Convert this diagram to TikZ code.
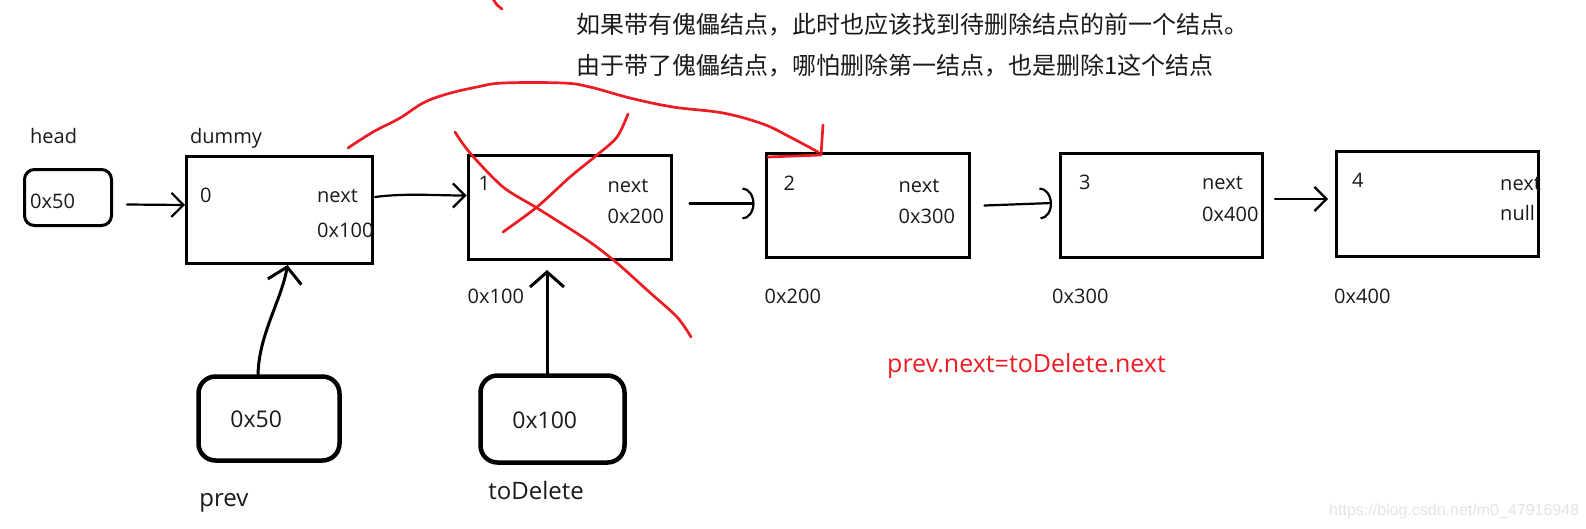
\documentclass[tikz,border=0pt]{standalone}
\usepackage{fontspec}
\setmainfont{Open Sans}
\newfontfamily\cjk{Noto Sans CJK SC}
\newfontfamily\wmfont{Liberation Sans}
\usetikzlibrary{arrows.meta,positioning,calc}
\definecolor{cPaintRed}{HTML}{ED1C24}
\definecolor{cInk}{HTML}{000000}
\definecolor{cText}{HTML}{1A1A1A}
\definecolor{cMark}{HTML}{E4E4E4}
\newcommand{\fsz}[1]{\fontsize{#1}{#1}\selectfont}

\begin{document}
\begin{tikzpicture}[x=1pt, y=-1pt, font=\fsz{20},
  cell/.style={draw=cInk, line width=3pt, inner sep=0pt, minimum width=#1, minimum height=104pt},
  cell/.default=203pt,
  var/.style={draw=cInk, line width=#1, inner sep=0pt},
  txt/.style={anchor=base west, inner sep=0pt, text=cText},
  note/.style={txt, font=\cjk\fsz{24}},
  ptr/.style={line width=2.2pt, line cap=round, -{Straight Barb[length=12pt, width=24pt]}},
  ptrbig/.style={line width=3pt, line cap=round, -{Straight Barb[length=15pt, width=34pt]}},
  ptrarc/.style={line width=2.2pt, line cap=round, -{Arc Barb[length=12pt, width=32pt]}},
  pen/.style={draw=cPaintRed, line width=2.7pt, line cap=round, line join=round}]
  \path[use as bounding box, fill=white] (0,0) rectangle (1586,528);
  % remark on top
  \node[note] (note1) at (576,33) {如果带有傀儡结点，此时也应该找到待删除结点的前一个结点。};
  \node[note] (note2) at (576,74) {由于带了傀儡结点，哪怕删除第一结点，也是删除1这个结点};
  % head reference
  \node[var=3pt, rounded corners=10pt, minimum width=87pt, minimum height=56pt] (head) at (68,197.5) {};
  \node[txt] (headval) at ($(head.north west)+(7,40)$) {0x50};
  \node[txt] (headname) at ($(head.north west)+(7,-25)$) {head};
  % dummy node
  \node[cell=186pt, minimum height=107pt] (dummy) at (279.5,210) {};
  \node[txt] (dummyname) at ($(dummy.north west)+(5,-12)$) {dummy};
  \node[txt] (val0) at ($(dummy.north west)+(15,47)$) {0};
  \node[txt] (next0) at ($(dummy.north west)+(132,47)$) {next};
  \node[txt] (ptr0) at ($(dummy.north west)+(132,82)$) {0x100};
  % list nodes
  \node[cell] (n1) at (569.5,207.5) {};
  \node[txt] (val1) at ($(n1.north west)+(12,36)$) {1};
  \node[txt] (next1) at ($(n1.north west)+(141,38)$) {next};
  \node[txt] (ptr1) at ($(n1.north west)+(141,69)$) {0x200};
  \node[txt] (addr1) at ($(n1.south west)+(1,42)$) {0x100};
  \node[cell] (n2) at (867.5,205.5) {};
  \node[txt] (val2) at ($(n2.north west)+(19,38)$) {2};
  \node[txt] (next2) at ($(n2.north west)+(134,40)$) {next};
  \node[txt] (ptr2) at ($(n2.north west)+(134,71)$) {0x300};
  \node[txt] (addr2) at ($(n2.south west)+(0,44)$) {0x200};
  \node[cell=202pt] (n3) at (1161.5,205) {};
  \node[txt] (val3) at ($(n3.north west)+(20,38)$) {3};
  \node[txt] (next3) at ($(n3.north west)+(143,38)$) {next};
  \node[txt] (ptr3) at ($(n3.north west)+(143,70)$) {0x400};
  \node[txt] (addr3) at ($(n3.south west)+(-7,45)$) {0x300};
  \node[cell=202pt, minimum height=105pt] (n4) at (1437.5,204) {};
  \node[txt] (val4) at ($(n4.north west)+(17,37)$) {4};
  \node[txt] (next4) at ($(n4.north west)+(165,40)$) {next};
  \node[txt] (ptr4) at ($(n4.north west)+(165,70)$) {null};
  \node[txt] (addr4) at ($(n4.south west)+(-1,45)$) {0x400};
  % prev and toDelete
  \node[var=4.5pt, rounded corners=17pt, minimum width=141pt, minimum height=84pt] (prev) at (269,418.5) {};
  \node[txt, font=\fsz{23}] (prevval) at ($(prev.north west)+(34,53)$) {0x50};
  \node[txt, font=\fsz{24}] (prevname) at ($(prev.south west)+(3,44)$) {prev};
  \node[var=4.5pt, rounded corners=17pt, minimum width=144pt, minimum height=87pt] (td) at (552.5,419) {};
  \node[txt, font=\fsz{23}] (tdval) at ($(td.north west)+(34,55)$) {0x100};
  \node[txt, font=\fsz{24}] (tdname) at ($(td.south west)+(10,35)$) {toDelete};
  \node[txt, text=cPaintRed, font=\fsz{25}] (fix) at (887,372) {prev.next=toDelete.next};
  \node[txt, text=cMark, font=\wmfont\fsz{16}] (wm) at (1329,515) {https://blog.csdn.net/m0\_47916948};
  % pointers
  \draw[ptr] ($(head.east)+(14,7)$) -- ($(dummy.west)+(0,-5)$);
  \draw[ptr] ($(dummy.east)+(1,-13)$) .. controls +(30,-4) and +(-30,0) .. ($(n1.west)+(0,-12)$);
  \draw[ptrarc] ($(n1.east)+(17,-4)$) -- ($(n2.west)+(-10,-2)$);
  \draw[ptrarc] ($(n2.east)+(14,0)$) -- ($(n3.west)+(-7,-2)$);
  \draw[ptr] ($(n3.east)+(11,-6)$) -- ($(n4.west)+(-7,-5)$);
  \draw[ptrbig] ($(prev.north)+(-11,0)$) .. controls +(1,-40) and +(-6,35) .. ($(dummy.south)+(8,0)$);
  \draw[ptrbig] ($(td.north)+(-5.5,0)$) -- ($(n1.south)+(-22.5,9)$);
  % red pen marks
  \draw[pen] plot[smooth, tension=0.6] coordinates {(348,148) (373,132) (400,118) (423,103) (447,94) (477,87) (503,83) (563,83) (590,87) (630,98) (673,107) (723,113) (763,124) (790,137) (818,152)};
  \draw[pen] (823,125) -- (821,155) -- (768,157);
  \draw[pen] plot[smooth] coordinates {(455,132) (470,153) (503,187) (537,208) (587,240) (617,263) (647,290) (677,317) (691,337)};
  \draw[pen] plot[smooth] coordinates {(628,114) (617,137) (597,155) (570,177) (537,207) (503,232)};
  \draw[pen] (493,-1) -- (497,5) -- (502,9);
\end{tikzpicture}
\end{document}
